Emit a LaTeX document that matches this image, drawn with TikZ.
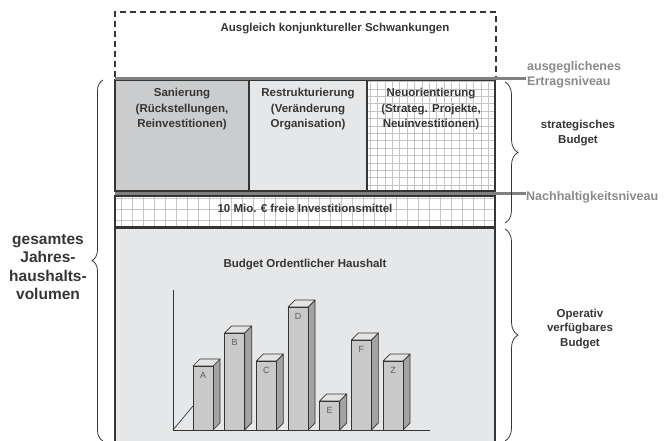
\documentclass[tikz,border=0pt]{standalone}
\usepackage{fontspec}
\setmainfont{Liberation Sans}
\usetikzlibrary{decorations.pathreplacing}
\definecolor{boxline}{HTML}{353535}
\definecolor{darkfill}{HTML}{CBCCCD}
\definecolor{lightfill}{HTML}{E6E7E8}
\definecolor{gridgray}{HTML}{C4C4C4}
\definecolor{levelgray}{HTML}{808080}
\definecolor{labelgray}{HTML}{8A8A8A}
\definecolor{barfront}{HTML}{C9C9C9}
\definecolor{barside}{HTML}{A3A3A3}
\definecolor{bartop}{HTML}{E3E3E3}
\begin{document}
\begin{tikzpicture}[x=1pt,y=-1pt,
	box/.style={draw=boxline,line width=1.4pt},
	level/.style={draw=levelgray,line width=3pt},
	txt/.style={font=\fontsize{11.5}{15.5}\selectfont\bfseries,text=boxline,align=center},
	side/.style={font=\fontsize{12.5}{15.5}\selectfont\bfseries,text=labelgray,align=left,anchor=west,inner sep=0pt},
	curly/.style={draw=boxline,line width=0.8pt,decorate,decoration={brace,amplitude=#1}},
	barline/.style={draw=boxline,line width=0.7pt,line join=round}]
	\useasboundingbox (0,0) rectangle (670,441);
	%	Ausgleich (gestrichelt)
	\draw[boxline,line width=1.5pt,dash pattern=on 6pt off 4pt] (115,77)--(115,12)--(496,12)--(496,77);
	\node[txt] (ausgleich) at (335,29) {Ausgleich konjunktureller Schwankungen};
	%	strategische Felder
	\fill[darkfill] (115,80) rectangle (249,191);
	\fill[lightfill] (249,80) rectangle (367,191);
	\begin{scope}
		\clip (367,80) rectangle (495,191);
		\draw[gridgray,line width=0.5pt,xstep=7.4pt,ystep=7.4pt] (360,70) grid (500,200);
	\end{scope}
	\draw[box] (115,80) rectangle (249,191);
	\draw[box] (249,80) rectangle (367,191);
	\draw[box] (367,80) rectangle (495,191);
	\node[txt,anchor=north] (sanierung) at (182,85) {Sanierung\\(R\"uckstellungen,\\Reinvestitionen)};
	\node[txt,anchor=north] (restrukt) at (308,85) {Restrukturierung\\(Ver\"anderung\\Organisation)};
	\node[txt,anchor=north] (neuorient) at (431,85) {Neuorientierung\\(Strateg. Projekte,\\Neuinvestitionen)};
	%	freie Investitionsmittel
	\begin{scope}
		\clip (115,196) rectangle (495,227);
		\draw[gridgray,line width=0.5pt,xstep=11pt,ystep=11pt] (100,190) grid (500,235);
	\end{scope}
	\draw[box] (115,196) rectangle (495,227);
	\node[txt] (invest) at (305,208) {10 Mio. € freie Investitionsmittel};
	%	Niveaus
	\draw[level] (115,78.5)--(526,78.5);
	\draw[level] (115,193.5)--(526,193.5);
	\node[side] (ertrag) at (527,75) {ausgeglichenes\\Ertragsniveau};
	\node[side] (nachhalt) at (526,197) {Nachhaltigkeitsniveau};
	%	ordentlicher Haushalt
	\fill[lightfill] (115,228) rectangle (495,442);
	\draw[box] (115,442)--(115,228)--(495,228)--(495,442);
	\node[txt] (ordentlich) at (305,265) {Budget Ordentlicher Haushalt};
	%	Diagramm
	\draw[boxline,line width=0.7pt] (173,290)--(173,430)--(430,430);
	\draw[boxline,line width=0.7pt] (173,430)--(193,406);
	\foreach \i/\t/\l in {0/366/A,1/333/B,2/361/C,3/307/D,4/401/E,5/340/F,6/361/Z}{
		\pgfmathsetmacro{\xa}{193+31.67*\i}
		\draw[barline,fill=barside] (\xa+20,\t)--(\xa+27,\t-7)--(\xa+27,423)--(\xa+20,430)--cycle;
		\draw[barline,fill=bartop] (\xa,\t)--(\xa+7,\t-7)--(\xa+27,\t-7)--(\xa+20,\t)--cycle;
		\draw[barline,fill=barfront] (\xa,\t) rectangle (\xa+20,430);
		\node[font=\fontsize{9}{10}\selectfont,text=boxline!80] (bar\l) at (\xa+10,\t+9) {\l};
	}
	%	Klammern
	\coordinate (gl1) at (103,441);
	\coordinate (gl2) at (103,80);
	\draw[curly=11pt] (gl1)--(gl2);
	\node[font=\fontsize{15.5}{18.5}\selectfont\bfseries,text=boxline,align=center] (gesamt) at (48,267) {gesamtes\\Jahres-\\haushalts-\\volumen};
	\coordinate (st1) at (505,82);
	\coordinate (st2) at (505,223);
	\draw[curly=13pt] (st1)--(st2);
	\node[txt,font=\fontsize{11.5}{14.5}\selectfont\bfseries] (strat) at (578,133) {strategisches\\Budget};
	\coordinate (op1) at (505,229);
	\coordinate (op2) at (505,441);
	\draw[curly=13pt] (op1)--(op2);
	\node[txt,font=\fontsize{11.5}{14.5}\selectfont\bfseries] (operativ) at (580,329) {Operativ\\verf\"ugbares\\Budget};
\end{tikzpicture}
\end{document}
